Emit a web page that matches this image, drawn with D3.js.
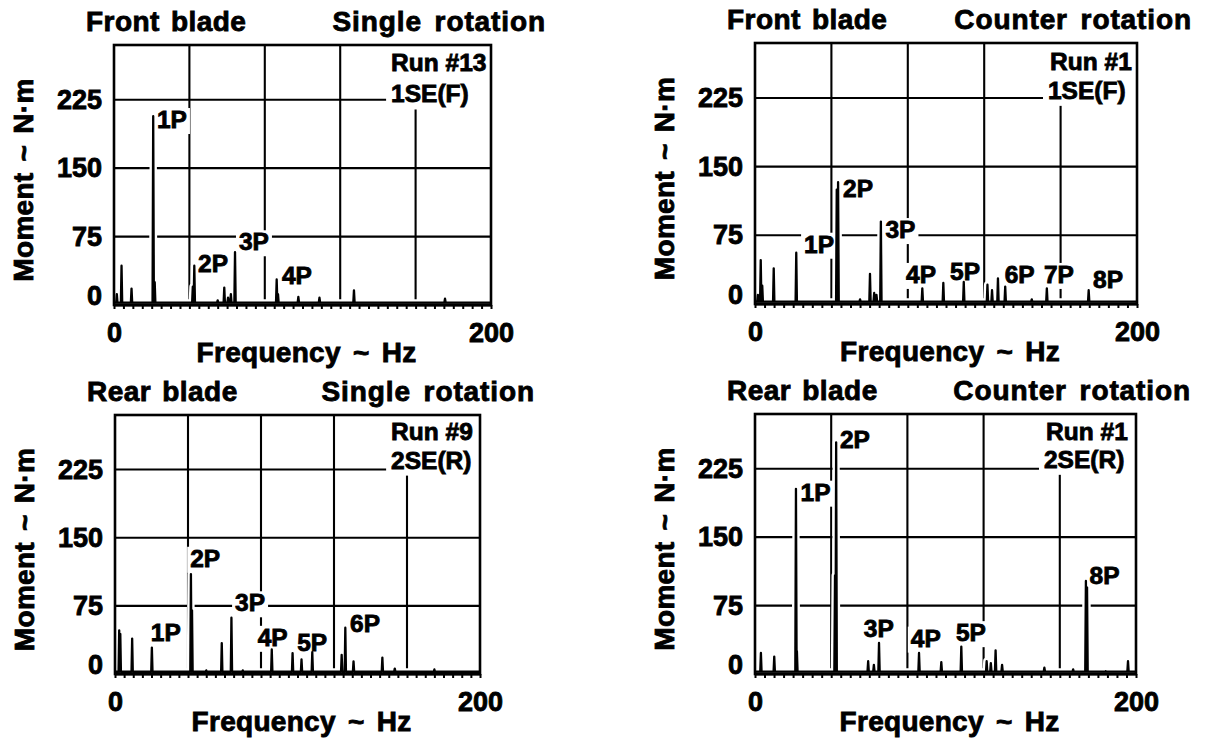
<!DOCTYPE html>
<html>
<head>
<meta charset="utf-8">
<script src="https://cdn.jsdelivr.net/npm/d3@7"></script>
<style>
  html, body { margin: 0; padding: 0; background: #fff; }
  svg { display: block; }
  text { font-family: "Liberation Sans", Arial, Helvetica, sans-serif; font-weight: bold; fill: #000; stroke: #000; stroke-width: 0.85px; }
</style>
</head>
<body>
<svg id="chart" width="1206" height="742"></svg>
<script>
// ---------------- data ----------------
const frequencyDomain = [0, 200];
const momentDomain = [0, 285];
const momentTicks = [0, 75, 150, 225];
const frequencyGrid = [40, 80, 120, 160];
const frequencyTickLabels = [0, 200];
const minorTickStep = 5;
const noiseFloor = 2.5;

const bladeTitles = ["Front blade", "Front blade", "Rear blade", "Rear blade"];
const rotationTitles = ["Single rotation", "Counter rotation", "Single rotation", "Counter rotation"];
const xAxisTitle = "Frequency ~ Hz";
const yAxisTitle = "Moment ~ N·m";

const runLabels = ["Run #13", "Run #1", "Run #9", "Run #1"];
const runLabelFreq = [147, 154.5, 151.3, 152.8];
const runLabelMoment = [256, 256, 257, 257];
const modeLabels = ["1SE(F)", "1SE(F)", "2SE(R)", "2SE(R)"];
const modeLabelFreq = [147, 153.4, 151.3, 151.7];
const modeLabelMoment = [222, 224, 226, 226];

// Front blade, single rotation (Run #13)
const frontSingleFreq   = [1.5, 4.0, 9.3, 20.8, 21.6, 41.8, 42.6, 55.0, 58.5, 60.5, 62.0, 64.2, 86.3, 87.0, 97.8, 109.0, 127.3, 175.6];
const frontSingleMoment = [12, 43, 18, 207, 25, 20, 43, 5, 19, 8, 12, 58, 28, 12, 9, 8, 16, 7];
const frontSingleLabels = ["1P", "2P", "3P", "4P"];
const frontSingleLabelFreq = [22.8, 44.6, 66.3, 89.1];
const frontSingleLabelMoment = [194, 36, 60, 23];

// Front blade, counter rotation (Run #1)
const frontCounterFreq   = [1.5, 3.0, 3.8, 9.8, 21.6, 42.8, 43.5, 55.0, 60.2, 62.4, 63.6, 65.9, 87.6, 98.6, 109.3, 121.7, 124.1, 127.2, 131.0, 144.9, 152.8, 174.7];
const frontCounterMoment = [10, 48, 20, 39, 56, 125, 133, 5, 33, 12, 10, 90, 17, 23, 24, 21, 15, 28, 19, 5, 17, 15];
const frontCounterLabels = ["1P", "2P", "3P", "4P", "5P", "6P", "7P", "8P"];
const frontCounterLabelFreq = [25.7, 46.1, 68.3, 79.1, 102.1, 130.7, 151.3, 177.0];
const frontCounterLabelMoment = [56, 117, 72, 23, 26, 23, 23, 17.5];

// Rear blade, single rotation (Run #9)
const rearSingleFreq   = [2.3, 2.9, 9.4, 20.2, 41.6, 42.2, 50.0, 58.5, 63.8, 70.0, 85.9, 97.3, 102.2, 108.1, 124.2, 126.2, 130.7, 146.5, 153.3, 175.0];
const rearSingleMoment = [48, 44, 39, 29, 110, 70, 4, 34, 62, 4, 27, 23, 16, 24, 21, 51, 14, 18, 6, 5];
const rearSingleLabels = ["1P", "2P", "3P", "4P", "5P", "6P"];
const rearSingleLabelFreq = [19.6, 41.2, 65.8, 78.2, 99.8, 128.8];
const rearSingleLabelMoment = [36, 118, 69, 31, 25, 46];

// Rear blade, counter rotation (Run #1)
const rearCounterFreq   = [3.1, 10.1, 21.5, 22.0, 42.0, 42.6, 59.4, 62.4, 65.1, 86.1, 97.8, 108.3, 121.6, 123.8, 126.3, 129.7, 151.9, 167.0, 173.7, 174.3, 184.1, 195.8];
const rearCounterMoment = [23, 19, 203, 25, 108, 254, 14, 10, 34, 23, 13, 30, 14, 12, 26, 10, 7, 5, 102, 95, 3, 14];
const rearCounterLabels = ["1P", "2P", "3P", "4P", "5P", "8P"];
const rearCounterLabelFreq = [23.9, 44.6, 57.1, 81.8, 105.5, 175.6];
const rearCounterLabelMoment = [190, 248, 41, 30, 36, 99];

// ---------------- layout (positions only) ----------------
const layout = [
  { left: 114, right: 491, top: 45, zero: 305 },
  { left: 755, right: 1137, top: 43, zero: 304 },
  { left: 115, right: 480, top: 415, zero: 674 },
  { left: 755, right: 1136, top: 414, zero: 674 }
];

const series = [
  { freq: frontSingleFreq, moment: frontSingleMoment, labels: frontSingleLabels, lf: frontSingleLabelFreq, lm: frontSingleLabelMoment },
  { freq: frontCounterFreq, moment: frontCounterMoment, labels: frontCounterLabels, lf: frontCounterLabelFreq, lm: frontCounterLabelMoment },
  { freq: rearSingleFreq, moment: rearSingleMoment, labels: rearSingleLabels, lf: rearSingleLabelFreq, lm: rearSingleLabelMoment },
  { freq: rearCounterFreq, moment: rearCounterMoment, labels: rearCounterLabels, lf: rearCounterLabelFreq, lm: rearCounterLabelMoment }
];

const svg = d3.select("#chart");
svg.append("rect").attr("width", 1206).attr("height", 742).attr("fill", "#fff");

const peakHalfWidth = 0.35;

layout.forEach((L, i) => {
  const S = series[i];
  const x = d3.scaleLinear().domain(frequencyDomain).range([L.left, L.right]);
  const y = d3.scaleLinear().domain(momentDomain).range([L.zero, L.top]);
  const g = svg.append("g");

  // grid
  const grid = g.append("g").attr("stroke", "#000").attr("stroke-width", 2.1);
  grid.selectAll("line.hgrid").data(momentTicks.filter(v => v > 0)).join("line")
    .attr("class", "hgrid")
    .attr("x1", x(frequencyDomain[0])).attr("x2", x(frequencyDomain[1]))
    .attr("y1", d => y(d)).attr("y2", d => y(d));
  grid.selectAll("line.vgrid").data(frequencyGrid).join("line")
    .attr("class", "vgrid")
    .attr("x1", d => x(d)).attr("x2", d => x(d))
    .attr("y1", y(momentDomain[1])).attr("y2", y(0));

  // spectrum points
  const pts = [[frequencyDomain[0], noiseFloor]];
  S.freq.forEach((f, k) => {
    pts.push([f - peakHalfWidth, noiseFloor], [f, S.moment[k]], [f + peakHalfWidth, noiseFloor]);
  });
  pts.push([frequencyDomain[1], noiseFloor]);
  const line = d3.line().x(d => x(d[0])).y(d => y(d[1]));

  // white halo around spectrum (breaks grid lines like the original)
  g.append("path").attr("d", line(pts)).attr("fill", "none")
    .attr("stroke", "#fff").attr("stroke-width", 7).attr("stroke-linejoin", "round");

  const bgLayer = g.append("g");
  const frameLayer = g.append("g");
  const specLayer = g.append("g");
  const textLayer = g.append("g");

  // peak labels
  S.labels.forEach((t, k) => {
    const tx = textLayer.append("text")
      .attr("x", x(S.lf[k])).attr("y", y(S.lm[k]))
      .attr("font-size", 24.5).text(t);
    const b = tx.node().getBBox();
    bgLayer.append("rect")
      .attr("x", b.x - 3).attr("y", b.y + 2).attr("width", b.width + 6).attr("height", b.height - 1)
      .attr("fill", "#fff");
  });

  // run / mode labels
  const r1 = textLayer.append("text").attr("x", x(runLabelFreq[i])).attr("y", y(runLabelMoment[i]))
    .attr("font-size", 24.5).text(runLabels[i]);
  const r2 = textLayer.append("text").attr("x", x(modeLabelFreq[i])).attr("y", y(modeLabelMoment[i]))
    .attr("font-size", 24.5).text(modeLabels[i]);
  const b1 = r1.node().getBBox(), b2 = r2.node().getBBox();
  const bx = Math.min(b1.x, b2.x) - 5;
  bgLayer.append("rect")
    .attr("x", bx).attr("y", y(momentDomain[1]))
    .attr("width", x(frequencyDomain[1]) - bx)
    .attr("height", (b2.y + b2.height + 2) - y(momentDomain[1]))
    .attr("fill", "#fff");

  // frame
  frameLayer.append("rect")
    .attr("x", x(frequencyDomain[0])).attr("y", y(momentDomain[1]))
    .attr("width", x(frequencyDomain[1]) - x(frequencyDomain[0]))
    .attr("height", y(0) - y(momentDomain[1]))
    .attr("fill", "none").attr("stroke", "#000").attr("stroke-width", 2.6);
  frameLayer.append("line")
    .attr("x1", x(frequencyDomain[0])).attr("x2", x(frequencyDomain[1]))
    .attr("y1", y(0)).attr("y2", y(0))
    .attr("stroke", "#000").attr("stroke-width", 3);

  // minor ticks on frequency axis
  const minorAxis = d3.axisBottom(x)
    .tickValues(d3.range(frequencyDomain[0], frequencyDomain[1] + 0.001, minorTickStep))
    .tickSize(4).tickFormat("");
  const ma = frameLayer.append("g").attr("transform", `translate(0,${y(0)})`).call(minorAxis);
  ma.select(".domain").remove();
  ma.selectAll("line").attr("stroke", "#000").attr("stroke-width", 2);

  // spectrum
  specLayer.append("path").attr("d", line(pts)).attr("fill", "none")
    .attr("stroke", "#000").attr("stroke-width", 2.3).attr("stroke-linejoin", "round");

  // y axis labels
  const yAxis = d3.axisLeft(y).tickValues(momentTicks).tickSize(0).tickPadding(12);
  const ya = textLayer.append("g").attr("transform", `translate(${x(0)},0)`).call(yAxis);
  ya.select(".domain").remove();
  ya.attr("font-family", null).attr("font-size", null);
  ya.selectAll("text").attr("font-size", 27).attr("fill", "#000");
  ya.selectAll(".tick").filter(d => d === 0).select("text").attr("dy", "0.32em").attr("y", -9);

  // x axis labels
  const xAxis = d3.axisBottom(x).tickValues(frequencyTickLabels).tickSize(0).tickPadding(18).tickFormat(d3.format("d"));
  const xa = textLayer.append("g").attr("transform", `translate(0,${y(0)})`).call(xAxis);
  xa.select(".domain").remove();
  xa.attr("font-family", null).attr("font-size", null);
  xa.selectAll("text").attr("font-size", 27).attr("fill", "#000");

  // axis titles
  textLayer.append("text")
    .attr("x", (x(frequencyDomain[0]) + x(frequencyDomain[1])) / 2 + 4)
    .attr("y", y(0) + 57)
    .attr("text-anchor", "middle").attr("font-size", 28).attr("letter-spacing", 0.3).attr("word-spacing", 4)
    .text(xAxisTitle);
  const ycx = x(frequencyDomain[0]) - 81;
  const ycy = (y(0) + y(momentDomain[1])) / 2 + 5;
  textLayer.append("text")
    .attr("transform", `translate(${ycx},${ycy}) rotate(-90)`)
    .attr("text-anchor", "middle").attr("font-size", 28).attr("letter-spacing", 0.3).attr("word-spacing", 3)
    .text(yAxisTitle);

  // panel titles
  textLayer.append("text")
    .attr("x", x(frequencyDomain[0]) - 28).attr("y", y(momentDomain[1]) - 14)
    .attr("font-size", 28).attr("letter-spacing", 0.45).attr("word-spacing", 3)
    .text(bladeTitles[i]);
  textLayer.append("text")
    .attr("x", x(frequencyDomain[1]) + 55).attr("y", y(momentDomain[1]) - 14)
    .attr("text-anchor", "end").attr("font-size", 28).attr("letter-spacing", 0.9).attr("word-spacing", 4)
    .text(rotationTitles[i]);
});
</script>
</body>
</html>
